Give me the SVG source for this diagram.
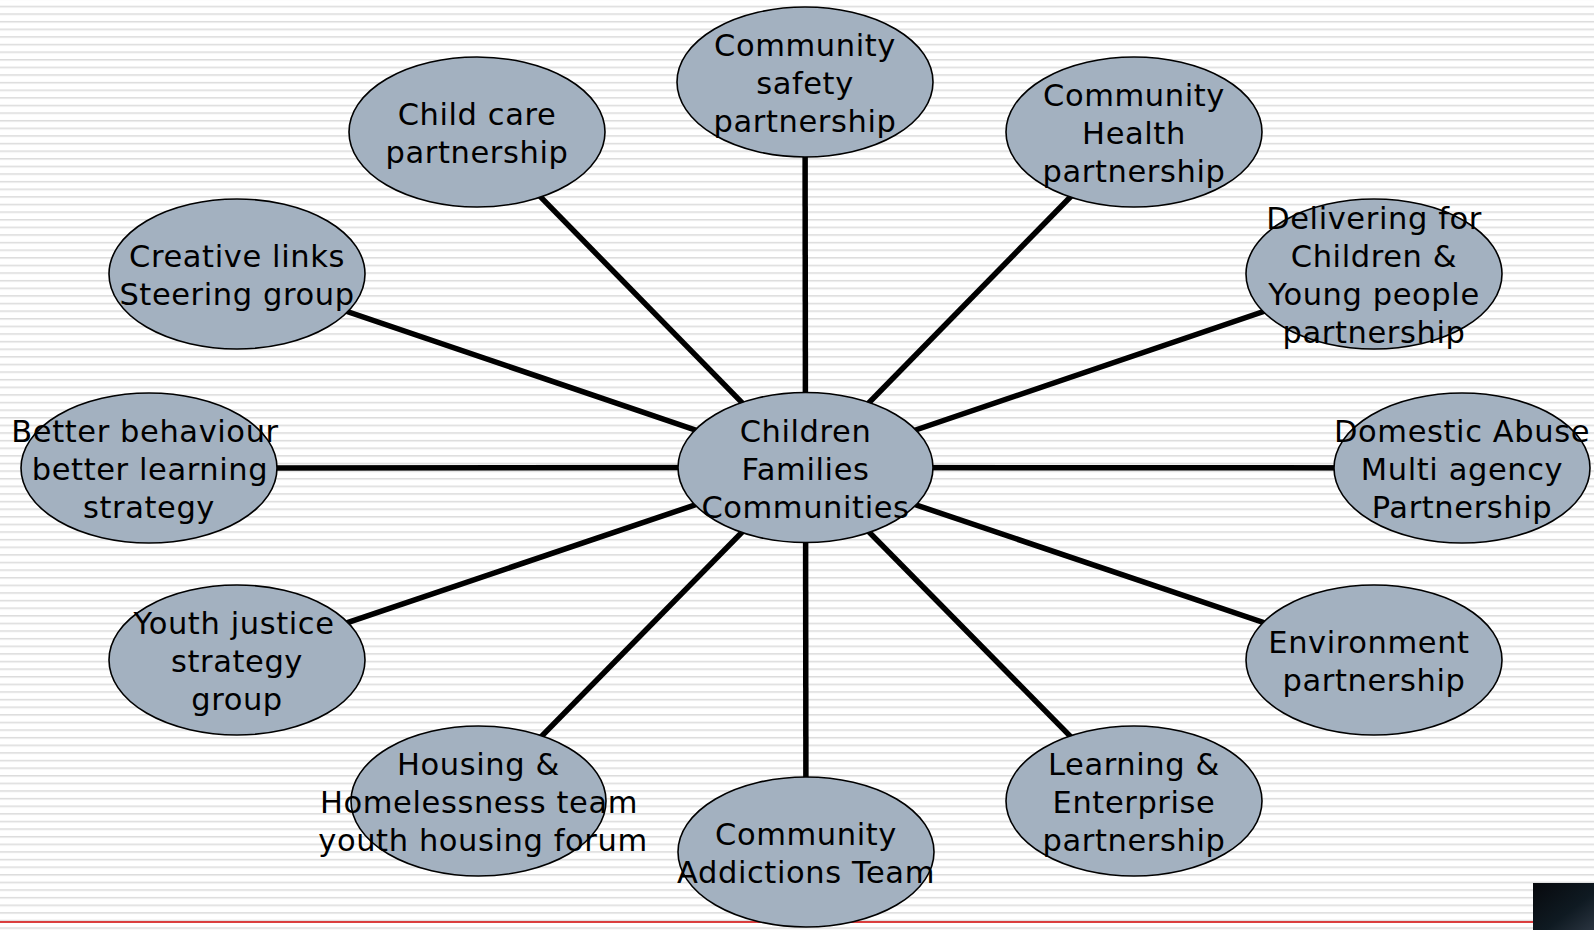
<svg xmlns="http://www.w3.org/2000/svg" width="1594" height="930" viewBox="0 0 1594 930">
<defs>
<pattern id="stripes" x="0" y="5.7" width="1594" height="7.617" patternUnits="userSpaceOnUse">
<rect x="0" y="0" width="1594" height="1" fill="#dcdcdc"/>
<rect x="0" y="1" width="1594" height="1" fill="#e9e9e9"/>
</pattern>
<linearGradient id="corner" x1="0" y1="0" x2="1" y2="1">
<stop offset="0" stop-color="#07090d"/>
<stop offset="0.6" stop-color="#0f1a22"/>
<stop offset="1" stop-color="#2a3440"/>
</linearGradient>
<style>
.node ellipse{fill:#a3b1c0;stroke:#000;stroke-width:1.6}
.node text{font-family:"DejaVu Sans","Liberation Sans",sans-serif;font-size:30.5px;letter-spacing:0.6px;fill:#000;text-anchor:middle}
#connectors line{stroke:#000;stroke-width:5.5}
</style>
</defs>
<rect width="1594" height="930" fill="#ffffff"/>
<rect width="1594" height="930" fill="url(#stripes)"/>
<line x1="0" y1="922" x2="1533" y2="922" stroke="#d00000" stroke-width="1.4"/>
<rect x="1533" y="883" width="61" height="47" fill="url(#corner)"/>
<g id="connectors">
<line x1="805.5" y1="467.5" x2="805" y2="82"/>
<line x1="805.5" y1="467.5" x2="477" y2="132"/>
<line x1="805.5" y1="467.5" x2="1134" y2="132"/>
<line x1="805.5" y1="467.5" x2="237" y2="274"/>
<line x1="805.5" y1="467.5" x2="1374" y2="274"/>
<line x1="805.5" y1="467.5" x2="149" y2="468"/>
<line x1="805.5" y1="467.5" x2="1462" y2="468"/>
<line x1="805.5" y1="467.5" x2="237" y2="660"/>
<line x1="805.5" y1="467.5" x2="1374" y2="660"/>
<line x1="805.5" y1="467.5" x2="478" y2="801"/>
<line x1="805.5" y1="467.5" x2="1134" y2="801"/>
<line x1="805.5" y1="467.5" x2="806" y2="852"/>
</g>
<g id="n-center" class="node"><ellipse cx="805.5" cy="467.5" rx="127.5" ry="75"/>
<text x="805.5" y="441.5">Children</text><text x="805.5" y="479.5">Families</text><text x="805.5" y="517.5">Communities</text></g>
<g id="n-safety" class="node"><ellipse cx="805" cy="82" rx="128" ry="75"/>
<text x="805" y="56">Community</text><text x="805" y="94">safety</text><text x="805" y="132">partnership</text></g>
<g id="n-childcare" class="node"><ellipse cx="477" cy="132" rx="128" ry="75"/>
<text x="477" y="125">Child care</text><text x="477" y="163">partnership</text></g>
<g id="n-health" class="node"><ellipse cx="1134" cy="132" rx="128" ry="75"/>
<text x="1134" y="106">Community</text><text x="1134" y="144">Health</text><text x="1134" y="182">partnership</text></g>
<g id="n-creative" class="node"><ellipse cx="237" cy="274" rx="128" ry="75"/>
<text x="237" y="267">Creative links</text><text x="237" y="305">Steering group</text></g>
<g id="n-delivering" class="node"><ellipse cx="1374" cy="274" rx="128" ry="75"/>
<text x="1374" y="229">Delivering for</text><text x="1374" y="267">Children &amp;</text><text x="1374" y="305">Young people</text><text x="1374" y="343">partnership</text></g>
<g id="n-behaviour" class="node"><ellipse cx="149" cy="468" rx="128" ry="75"/>
<text x="145" y="442">Better behaviour</text><text x="150" y="480">better learning</text><text x="149" y="518">strategy</text></g>
<g id="n-domestic" class="node"><ellipse cx="1462" cy="468" rx="128" ry="75"/>
<text x="1462" y="442">Domestic Abuse</text><text x="1462" y="480">Multi agency</text><text x="1462" y="518">Partnership</text></g>
<g id="n-youth" class="node"><ellipse cx="237" cy="660" rx="128" ry="75"/>
<text x="234" y="634">Youth justice</text><text x="237" y="672">strategy</text><text x="237" y="710">group</text></g>
<g id="n-environment" class="node"><ellipse cx="1374" cy="660" rx="128" ry="75"/>
<text x="1369" y="653">Environment</text><text x="1374" y="691">partnership</text></g>
<g id="n-housing" class="node"><ellipse cx="478.5" cy="801" rx="127.5" ry="75"/>
<text x="478.5" y="775">Housing &amp;</text><text x="479" y="813">Homelessness team</text><text x="483" y="851">youth housing forum</text></g>
<g id="n-learning" class="node"><ellipse cx="1134" cy="801" rx="128" ry="75"/>
<text x="1134" y="775">Learning &amp;</text><text x="1134" y="813">Enterprise</text><text x="1134" y="851">partnership</text></g>
<g id="n-addictions" class="node"><ellipse cx="806" cy="852" rx="128" ry="75"/>
<text x="806" y="845">Community</text><text x="806" y="883">Addictions Team</text></g>
</svg>
